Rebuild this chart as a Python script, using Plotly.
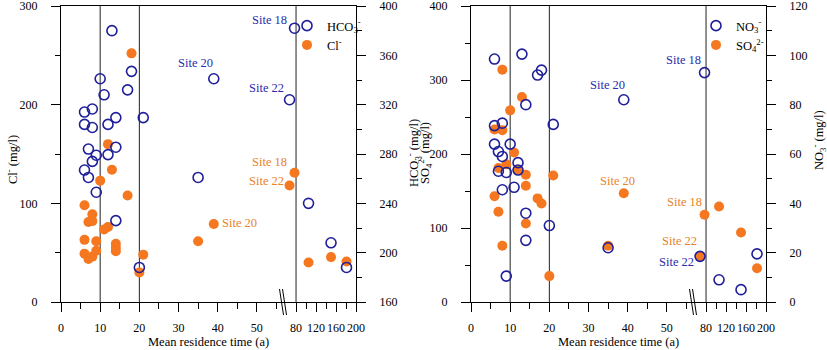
import plotly.graph_objects as go

# ---------------- data ----------------
# Left panel: HCO3- (right axis) and Cl- (left axis) vs mean residence time (a)
hco3_time = [13, 18, 10, 17, 11, 6, 8, 6, 8, 12, 14, 21, 7, 14, 9, 12, 8, 6, 7, 9, 14, 20, 35, 39, 67, 77, 105, 150, 181]
hco3_val = [380, 347, 341, 332, 328, 314, 316.5, 304, 301.5, 304, 309.5, 309.5, 284, 285.5, 279, 279.5, 274, 267, 261, 249, 226, 188, 261, 341, 324, 382, 240, 208, 188]

cl_time = [18, 12, 13, 77, 10, 67, 17, 6, 8, 7, 8, 12, 11, 39, 6, 9, 35, 14, 14, 14, 6, 7, 8, 9, 21, 20, 105, 150, 181]
cl_val = [252, 160, 134, 131, 123, 118, 108, 98, 89, 81, 82, 76, 73.5, 79, 63, 61.5, 61.5, 59, 55, 51.5, 49, 43.5, 46, 52, 48, 30, 40, 45.5, 41]

# Right panel: NO3- (right axis) and SO4 2- (left axis)
no3_time = [6, 13, 17, 18, 14, 6, 8, 21, 6, 10, 7, 8, 12, 7, 9, 12, 39, 77, 8, 11, 14, 14, 20, 9, 35, 68, 106, 150, 182]
no3_val = [98.5, 100.5, 92, 94, 80, 71.5, 72.5, 72, 64, 64, 61, 59, 56.5, 53, 52.5, 53.5, 82, 93, 45.5, 46.5, 36, 25, 31, 10.5, 22, 18.5, 9, 5, 19.5]

so4_time = [8, 13, 10, 6, 8, 11, 9, 7, 12, 14, 21, 14, 6, 17, 18, 7, 14, 8, 20, 39, 35, 77, 106, 150, 182, 68]
so4_val = [314, 277, 259, 233, 232, 202, 186, 181, 178, 172, 171, 157, 143, 140, 133, 122, 106, 76, 35, 147, 76, 118, 129, 94, 45.5, 62]

x_major = [0, 10, 20, 30, 40, 50, 80, 120, 160, 200]
x_minor = [5, 15, 25, 35, 45, 55, 100, 140, 180]
ref_lines = [10, 20, 80]

# ---------------- helpers ----------------
W, H = 827, 350
FONT = "Liberation Serif"
BLUE = "#1f1f99"
BLUE_T = "#2b2bab"
ORANGE = "#f5771f"
ORANGE_T = "#e9822a"


def brk(v):
    """Broken time axis: linear up to 60, then 80..200 compressed."""
    return v if v <= 60 else 60 + (v - 80) / 7.84


def px(x):
    return x / W


def py(y):
    return 1 - y / H


XL = [61 / W, 356 / W]
XR = [471 / W, 766 / W]
YD = [py(302), py(6)]

fig = go.Figure()

open_marker = dict(symbol="circle-open", size=10, color=BLUE, line=dict(width=1.6, color=BLUE))
fill_marker = dict(symbol="circle", size=10, color=ORANGE)

fig.add_trace(go.Scatter(x=[brk(v) for v in hco3_time], y=hco3_val, mode="markers",
                         marker=open_marker, name="HCO<sub>3</sub><sup>-</sup>",
                         xaxis="x", yaxis="y2", legend="legend"))
fig.add_trace(go.Scatter(x=[brk(v) for v in cl_time], y=cl_val, mode="markers",
                         marker=fill_marker, name="Cl<sup>-</sup>",
                         xaxis="x", yaxis="y", legend="legend"))
fig.add_trace(go.Scatter(x=[brk(v) for v in no3_time], y=no3_val, mode="markers",
                         marker=open_marker, name="NO<sub>3</sub><sup>-</sup>",
                         xaxis="x2", yaxis="y4", legend="legend2"))
fig.add_trace(go.Scatter(x=[brk(v) for v in so4_time], y=so4_val, mode="markers",
                         marker=fill_marker, name="SO<sub>4</sub><sup>2-</sup>",
                         xaxis="x2", yaxis="y3", legend="legend2"))

tickfont = dict(family=FONT, size=12, color="black")


def xaxis_cfg(domain, anchor):
    return dict(domain=domain, anchor=anchor, range=[0, brk(200)],
                tickvals=[brk(v) for v in x_major], ticktext=[str(v) for v in x_major],
                tickangle=0,
                ticks="outside", ticklen=9, tickwidth=1, tickcolor="black",
                minor=dict(tickvals=[brk(v) for v in x_minor], ticks="outside", ticklen=6,
                           tickwidth=1, tickcolor="black", showgrid=False),
                showline=True, linecolor="black", linewidth=1, mirror=True,
                showgrid=False, zeroline=False, tickfont=tickfont, ticklabelstandoff=6,
                ticklabeloverflow="allow", automargin=False)


def yaxis_cfg(domain, anchor, rng, step, side="left", overlaying=None):
    d = dict(anchor=anchor, range=rng, side=side,
             tickvals=list(range(rng[0], rng[1] + 1, step)),
             ticks="outside", ticklen=9, tickwidth=1, tickcolor="black",
             minor=dict(tickvals=list(range(rng[0] + step // 2, rng[1], step)), ticks="outside",
                        ticklen=5, tickwidth=1, tickcolor="black", showgrid=False),
             showline=True, linecolor="black", linewidth=1,
             showgrid=False, zeroline=False, tickfont=tickfont, ticklabelstandoff=11,
             ticklabeloverflow="allow", automargin=False)
    if overlaying:
        d["overlaying"] = overlaying
    else:
        d["domain"] = domain
    return d


shapes = []
for xr in ["x", "x2"]:
    for v in ref_lines:
        shapes.append(dict(type="line", xref=xr, yref=("y" if xr == "x" else "y3") + " domain",
                           x0=brk(v), x1=brk(v), y0=0, y1=1,
                           line=dict(color="#222222", width=1), layer="below"))
# axis-break marks
for x0 in [61, 471]:
    for dx in [0, 3]:
        shapes.append(dict(type="line", xref="paper", yref="paper",
                           x0=px(x0 + 218.5 + dx), x1=px(x0 + 222.5 + dx),
                           y0=py(289), y1=py(315), line=dict(color="black", width=1)))

ann = []
sites = [
    ("Site 18", 269.5, 20, BLUE_T), ("Site 20", 195, 63, BLUE_T), ("Site 22", 266, 88, BLUE_T),
    ("Site 18", 269, 162, ORANGE_T), ("Site 22", 266, 181, ORANGE_T), ("Site 20", 239, 223, ORANGE_T),
    ("Site 20", 607, 85, BLUE_T), ("Site 18", 683, 60, BLUE_T), ("Site 20", 617, 181, ORANGE_T),
    ("Site 18", 684.5, 202, ORANGE_T), ("Site 22", 679, 241, ORANGE_T), ("Site 22", 676, 262, BLUE_T),
]
for t, x, y, c in sites:
    ann.append(dict(text=t, x=px(x), y=py(y), xref="paper", yref="paper", showarrow=False,
                    xanchor="center", yanchor="middle", font=dict(family=FONT, size=12.5, color=c)))

titles = [
    ("Mean residence time (a)", 208.5, 342, 0),
    ("Mean residence time (a)", 618.5, 342, 0),
    ("Cl<sup>-</sup> (mg/l)", 12, 160, -90),
    ("HCO<sub>3</sub><sup>-</sup> (mg/l)", 414, 153, -90),
    ("SO<sub>4</sub><sup>2-</sup> (mg/l)", 425, 153, -90),
    ("NO<sub>3</sub><sup>-</sup> (mg/l)", 819, 140, -90),
]
for t, x, y, a in titles:
    ann.append(dict(text=t, x=px(x), y=py(y), xref="paper", yref="paper", showarrow=False,
                    xanchor="center", yanchor="middle", textangle=a,
                    font=dict(family=FONT, size=12.5, color="black")))

legfont = dict(family=FONT, size=12.5, color="black")
fig.update_layout(
    width=W, height=H, margin=dict(l=0, r=0, t=0, b=0),
    paper_bgcolor="white", plot_bgcolor="white",
    font=dict(family=FONT, size=12, color="black"),
    xaxis=xaxis_cfg(XL, "y"),
    xaxis2=xaxis_cfg(XR, "y3"),
    yaxis=yaxis_cfg(YD, "x", [0, 300], 100),
    yaxis2=yaxis_cfg(YD, "x", [160, 400], 40, side="right", overlaying="y"),
    yaxis3=yaxis_cfg(YD, "x2", [0, 400], 100),
    yaxis4=yaxis_cfg(YD, "x2", [0, 120], 20, side="right", overlaying="y3"),
    shapes=shapes, annotations=ann,
    legend=dict(x=px(287), y=py(11), xanchor="left", yanchor="top", bgcolor="rgba(0,0,0,0)",
                font=legfont, itemwidth=30, tracegroupgap=0),
    legend2=dict(x=px(696), y=py(11), xanchor="left", yanchor="top", bgcolor="rgba(0,0,0,0)",
                 font=legfont, itemwidth=30, tracegroupgap=0),
    showlegend=True,
)

fig.write_html("out.html")
